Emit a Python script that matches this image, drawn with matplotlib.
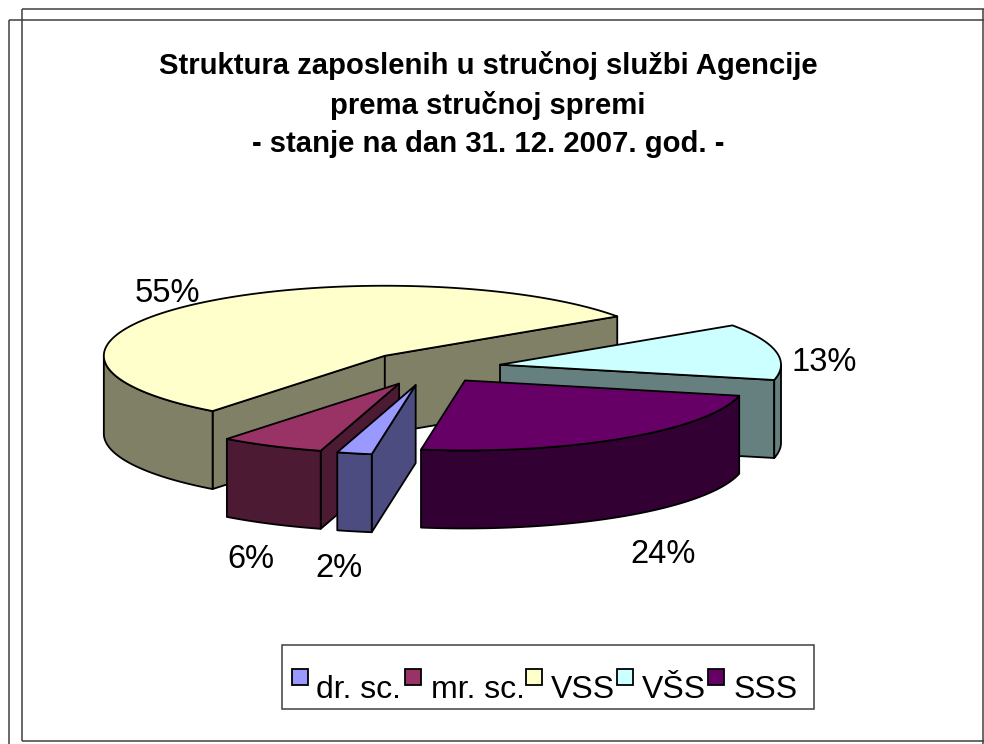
import numpy as np
import matplotlib
matplotlib.use("Agg")
import matplotlib.pyplot as plt
from matplotlib.patches import Polygon, Rectangle

plt.rcParams['font.family'] = ['Liberation Sans', 'DejaVu Sans']

# chart data
labels = ['dr. sc.', 'mr. sc.', 'VSS', 'VŠS', 'SSS']
shares = [2, 6, 55, 13, 24]
top_colors = ['#9999FF', '#993366', '#FFFFCC', '#CCFFFF', '#660066']
wall_colors = ['#4C4C80', '#4C1A33', '#808066', '#668080', '#330033']
title_lines = ['Struktura zaposlenih u stručnoj službi Agencije',
               'prema stručnoj spremi',
               '- stanje na dan 31. 12. 2007. god. -']

# pie geometry in pixels
CX, CY = 431, 368
RX, RY = 281, 70
DEPTH = 78
EXPLODE = [0.25, 0.25, 0.24, 0.25, 0.215]
START = 261

fig = plt.figure(figsize=(9.84, 7.44), dpi=100)
ax = fig.add_axes([0, 0, 1, 1])
ax.set_xlim(0, 984)
ax.set_ylim(744, 0)
ax.axis('off')

# page frames
for xs, ys in [([22, 22], [741, 9]), ([22, 984], [9, 9]),
               ([9, 9], [744, 20]), ([9, 984], [20, 20]),
               ([22, 984], [741, 741]), ([983, 983], [9, 744])]:
    ax.plot(xs, ys, color='#404040', lw=1.1, solid_capstyle='butt')


def rim(ox, oy, a, b):
    t = np.radians(np.linspace(a, b, max(int(abs(a - b)) * 2, 2)))
    return np.column_stack([ox + RX * np.cos(t), oy - RY * np.sin(t)])


def add_poly(pts, color):
    ax.add_patch(Polygon(pts, closed=True, facecolor=color, edgecolor='black',
                         lw=1.3, joinstyle='round'))


def draw_slice(a1, a2, top, wall, explode):
    mid = np.radians((a1 + a2) / 2)
    ox = CX + explode * RX * np.cos(mid)
    oy = CY - explode * RY * np.sin(mid)
    down = np.array([0, DEPTH])
    apex = np.array([ox, oy])
    # flat side walls that face the viewer
    for a, visible in [(a1, np.cos(np.radians(a1)) < 0), (a2, np.cos(np.radians(a2)) > 0)]:
        if visible:
            p = rim(ox, oy, a, a)[0]
            add_poly([apex, p, p + down, apex + down], wall)
    # outer wall: only the front half of the rim
    for k in range(-1, 2):
        lo = max(a2, 180 + 360 * k)
        hi = min(a1, 360 + 360 * k)
        if hi > lo:
            edge = rim(ox, oy, lo, hi)
            add_poly(np.vstack([edge, (edge + down)[::-1]]), wall)
    add_poly(np.vstack([[apex], rim(ox, oy, a1, a2)]), top)


# angles run clockwise from START
edges = START - np.cumsum([0] + shares) * 3.6
for i in [2, 3, 1, 0, 4]:
    draw_slice(edges[i], edges[i + 1], top_colors[i], wall_colors[i], EXPLODE[i])

# title
for line, y in zip(title_lines, [66, 105, 144]):
    ax.text(488, y, line, ha='center', va='center', fontsize=21.1, fontweight='bold')

# percent labels
label_pos = [(315, 577), (227, 568), (135, 302), (792, 371), (630, 563)]
for s, (x, y) in zip(shares, label_pos):
    ax.text(x, y, f'{s}%', ha='left', va='baseline', fontsize=23.5)

# legend
ax.add_patch(Rectangle((282, 645), 532, 64, facecolor='white', edgecolor='#404040', lw=1.1))
swatch_x = [292, 405, 526, 617, 708]
text_x = [316, 431, 551, 642, 734]
for i, lab in enumerate(labels):
    ax.add_patch(Rectangle((swatch_x[i], 669), 16, 16, facecolor=top_colors[i],
                           edgecolor='black', lw=1.3))
    ax.text(text_x[i], 698, lab, ha='left', va='baseline', fontsize=23)

fig.savefig('out.png', dpi=100)
